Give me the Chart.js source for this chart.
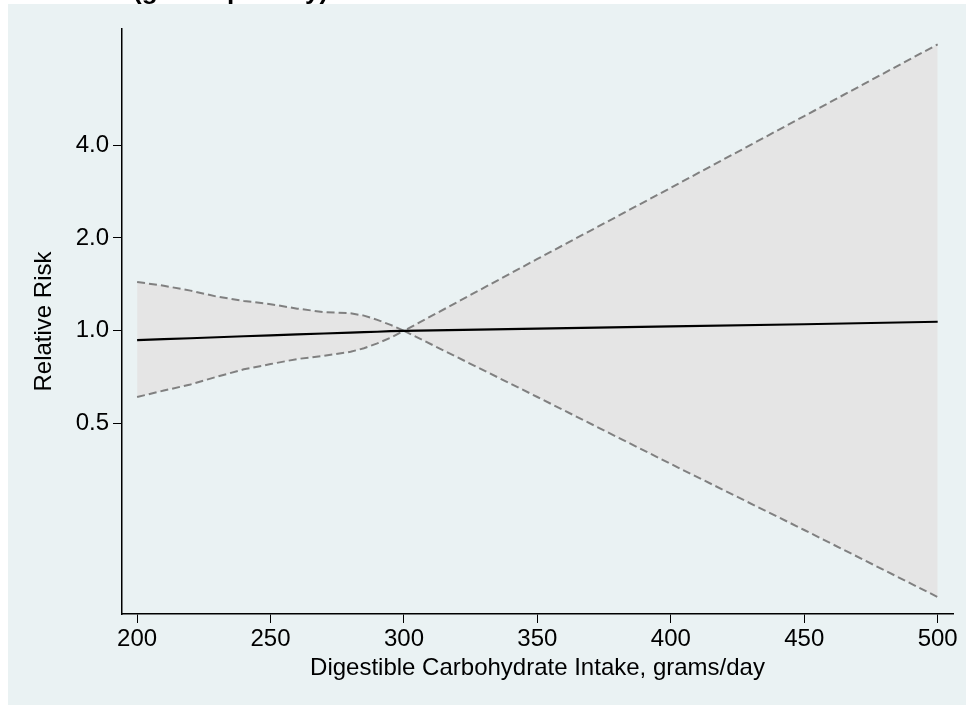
<!DOCTYPE html>
<html>
<head>
<meta charset="utf-8">
<script src="https://cdn.jsdelivr.net/npm/chart.js@4"></script>
<style>
    body { margin: 0; background: #ffffff; }
    canvas { display: block; }
</style>
</head>
<body>
<canvas id="rr-chart" width="966" height="705"></canvas>
<script>
'use strict';

//DATA
const carbIntake = [200, 210, 220, 230, 240, 250, 260, 270, 280, 285, 290, 295, 300, 350, 400, 450, 500];
const rrEstimate = [0.933, 0.940, 0.946, 0.953, 0.960, 0.966, 0.973, 0.980, 0.987, 0.990, 0.993, 0.997, 1.0, 1.016, 1.033, 1.05, 1.07];
const rrUpper = [1.44, 1.40, 1.35, 1.29, 1.25, 1.22, 1.18, 1.15, 1.14, 1.12, 1.085, 1.045, 1.0, 1.71, 2.91, 4.97, 8.49];
const rrLower = [0.61, 0.64, 0.67, 0.71, 0.75, 0.78, 0.81, 0.83, 0.855, 0.878, 0.91, 0.95, 1.0, 0.61, 0.37, 0.226, 0.137];

//TICKS
const xTicks = [200, 250, 300, 350, 400, 450, 500];
const yTicks = [0.5, 1, 2, 4];

const titleText = '(grams per day)';
const xTitle = 'Digestible Carbohydrate Intake, grams/day';
const yTitle = 'Relative Risk';

Chart.defaults.font.family = '"Liberation Sans", Arial, sans-serif';
Chart.defaults.font.size = 24;
Chart.defaults.color = '#000000';

function points(values) {
    return carbIntake.map(function (x, i) {
        return {x: x, y: values[i]};
    });
}

//BACKGROUND + CUT OFF TITLE
let backdrop = {
    id: 'backdrop',
    beforeDraw: function (chart) {
        let ctx = chart.ctx;
        ctx.save();
        ctx.fillStyle = '#ffffff';
        ctx.fillRect(0, 0, chart.width, chart.height);
        ctx.fillStyle = '#000000';
        ctx.font = 'bold 26px "Liberation Sans", Arial, sans-serif';
        ctx.textBaseline = 'alphabetic';
        ctx.fillText(titleText, 133, -1.5);
        ctx.fillStyle = '#eaf2f3';
        ctx.fillRect(8, 4, chart.width - 8, chart.height - 4);
        ctx.restore();
    }
};

new Chart(document.getElementById('rr-chart'), {
    type: 'line',
    data: {
        datasets: [
            {
                label: 'Relative risk',
                data: points(rrEstimate),
                borderColor: '#000000',
                borderWidth: 2.2,
                pointRadius: 0,
                fill: false
            },
            {
                label: 'Upper 95% CI',
                data: points(rrUpper),
                borderColor: '#808080',
                borderWidth: 2,
                borderDash: [8, 4],
                pointRadius: 0,
                backgroundColor: '#e5e5e5',
                fill: '+1'
            },
            {
                label: 'Lower 95% CI',
                data: points(rrLower),
                borderColor: '#808080',
                borderWidth: 2,
                borderDash: [8, 4],
                pointRadius: 0,
                fill: false
            }
        ]
    },
    options: {
        responsive: false,
        animation: false,
        layout: {
            padding: {top: 29, right: 13, left: 0, bottom: 0}
        },
        plugins: {
            legend: {display: false},
            tooltip: {enabled: false},
            filler: {drawTime: 'beforeDatasetsDraw'}
        },
        scales: {
            x: {
                type: 'linear',
                min: 194.34,
                max: 505.74,
                afterBuildTicks: function (scale) {
                    scale.ticks = xTicks.map(function (v) { return {value: v}; });
                },
                afterFit: function (scale) {
                    scale.height = 91;
                },
                ticks: {
                    padding: 2,
                    maxRotation: 0,
                    autoSkip: false,
                    callback: function (v) { return String(v); }
                },
                grid: {
                    drawOnChartArea: false,
                    drawTicks: true,
                    tickLength: 9,
                    tickColor: '#000000',
                    tickWidth: 1
                },
                border: {display: true, color: '#000000', width: 1.5},
                title: {
                    display: true,
                    text: xTitle,
                    padding: {top: 0, bottom: 22}
                }
            },
            y: {
                type: 'logarithmic',
                min: 0.1207,
                max: 9.52,
                afterBuildTicks: function (scale) {
                    scale.ticks = yTicks.map(function (v) { return {value: v}; });
                },
                afterFit: function (scale) {
                    scale.width = 122;
                },
                ticks: {
                    padding: 4,
                    autoSkip: false,
                    callback: function (v) { return Number(v).toFixed(1); }
                },
                grid: {
                    drawOnChartArea: false,
                    drawTicks: true,
                    tickLength: 9,
                    tickColor: '#000000',
                    tickWidth: 1
                },
                border: {display: true, color: '#000000', width: 1.5},
                title: {
                    display: true,
                    text: yTitle,
                    padding: {top: 30, bottom: 0}
                }
            }
        }
    },
    plugins: [backdrop]
});
</script>
</body>
</html>
